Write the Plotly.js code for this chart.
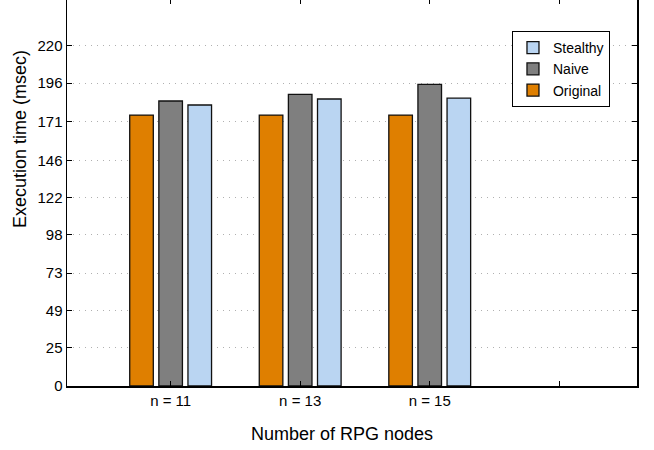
<!DOCTYPE html>
<html>
<head>
<meta charset="utf-8">
<script src="https://cdn.plot.ly/plotly-3.0.1.min.js"></script>
<style>
  html, body { margin: 0; padding: 0; background: #fff; overflow: hidden; }
  #chart { position: absolute; left: 0; top: -6px; width: 654px; height: 456px; }
</style>
</head>
<body>
<div id="chart"></div>
<script>
// ---- data ----
const categories = [1, 2, 3];
const categoryLabels = ['n = 11', 'n = 13', 'n = 15', ''];
const tickPositions = [1, 2, 3, 4];
const original = [175.3, 175.3, 175.3];
const naive = [184.4, 188.7, 195.2];
const stealthy = [181.8, 185.7, 186.2];
const yTickVals = [0, 25, 49, 73, 98, 122, 146, 171, 196, 220];
const yTickText = ['0', '25', '49', '73', '98', '122', '146', '171', '196', '220'];

const lineStyle = { color: '#111111', width: 1.3 };

const traces = [
  { type: 'bar', name: 'Original', x: categories, y: original,
    marker: { color: '#DF7F00', line: lineStyle } },
  { type: 'bar', name: 'Naive', x: categories, y: naive,
    marker: { color: '#7F7F7F', line: lineStyle } },
  { type: 'bar', name: 'Stealthy', x: categories, y: stealthy,
    marker: { color: '#BAD5F2', line: lineStyle } }
];

const font = 'Liberation Sans, Arial, Helvetica, sans-serif';

const layout = {
  width: 654, height: 456,
  margin: { l: 67, r: 17, t: 5, b: 64 },
  paper_bgcolor: '#ffffff', plot_bgcolor: '#ffffff',
  font: { family: font, size: 15, color: '#000' },
  barmode: 'group',
  bargap: 0.3256,
  bargroupgap: 0.19,
  showlegend: true,
  legend: {
    x: 0.9526, y: 0.917, xanchor: 'right', yanchor: 'top',
    traceorder: 'reversed',
    bgcolor: '#ffffff', bordercolor: '#000000', borderwidth: 1,
    font: { family: font, size: 14, color: '#000' },
    itemwidth: 30, tracegroupgap: 0
  },
  xaxis: {
    range: [0.2, 4.6],
    tickmode: 'array', tickvals: tickPositions, ticktext: categoryLabels,
    ticks: 'inside', ticklen: 5, tickwidth: 1, tickcolor: '#000',
    showline: true, linecolor: '#000', linewidth: 1.5, mirror: 'ticks',
    showgrid: false, zeroline: false,
    tickfont: { family: font, size: 15, color: '#000' }
  },
  yaxis: {
    range: [0, 250.4],
    tickmode: 'array', tickvals: yTickVals, ticktext: yTickText,
    ticks: 'inside', ticklen: 5, tickwidth: 1, tickcolor: '#000',
    showline: true, linecolor: '#000', linewidth: 1.5, mirror: 'ticks',
    showgrid: true, gridcolor: '#b0b0b0', griddash: '1px,5px', gridwidth: 1,
    zeroline: false,
    tickfont: { family: font, size: 15, color: '#000' }
  },
  annotations: [
    { text: 'Number of RPG nodes', xref: 'paper', yref: 'paper',
      x: 0.482, y: -0.1253, xanchor: 'center', yanchor: 'middle',
      showarrow: false, font: { family: font, size: 18, color: '#000' } },
    { text: 'Execution time (msec)', xref: 'paper', yref: 'paper',
      x: -0.0825, y: 0.638, xanchor: 'center', yanchor: 'middle', textangle: -90,
      showarrow: false, font: { family: font, size: 18, color: '#000' } }
  ]
};

Plotly.newPlot('chart', traces, layout, { staticPlot: true, displayModeBar: false });
</script>
</body>
</html>
